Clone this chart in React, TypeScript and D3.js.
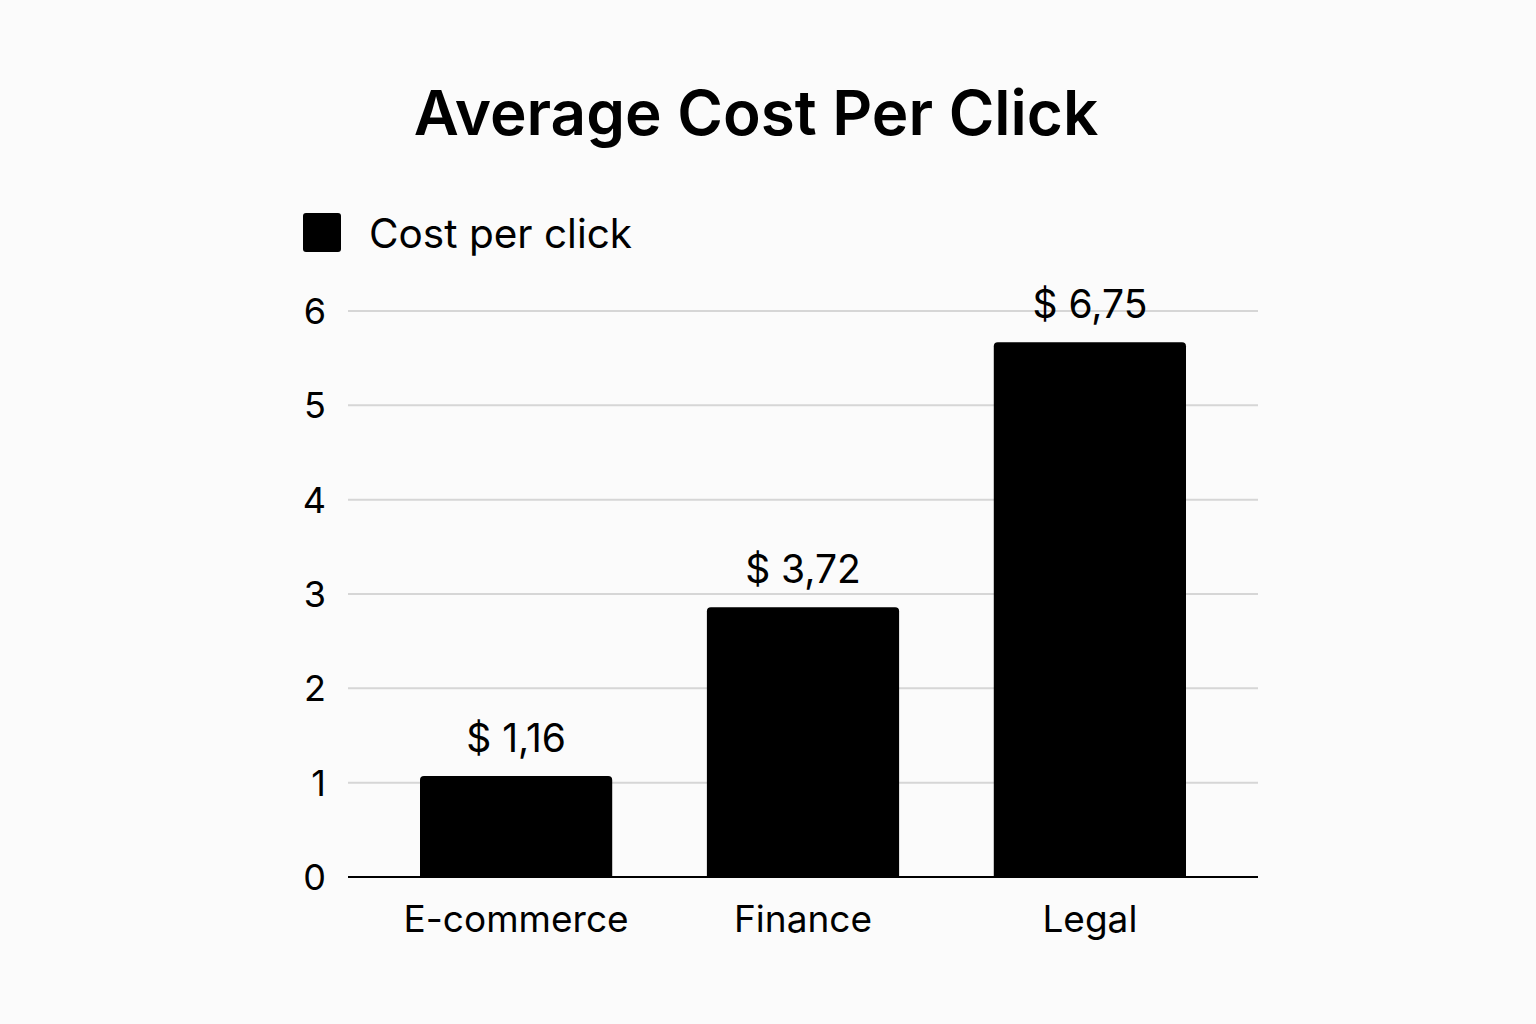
import { useEffect, useRef } from 'react';
import * as d3 from 'd3';

const categories = ['E-commerce', 'Finance', 'Legal'];
// bar heights as drawn in the picture
const barValues = [1.07, 2.86, 5.67];
// value labels as printed above the bars
const valueLabels = ['$ 1,16', '$ 3,72', '$ 6,75'];
const yTicks = [0, 1, 2, 3, 4, 5, 6];
const seriesName = 'Cost per click';
const title = 'Average Cost Per Click';

const W = 1536;
const H = 1024;
const FONT = 'Inter, "Noto Sans", sans-serif';

export default function App() {
  const svgRef = useRef<SVGSVGElement>(null);

  useEffect(() => {
    if (!svgRef.current) return;
    const svg = d3.select(svgRef.current);
    svg.selectAll('*').remove();

    svg.append('rect').attr('width', W).attr('height', H).attr('fill', '#fbfbfb');

    const x = d3.scaleBand<string>()
      .domain(categories)
      .range([420, 1186])
      .paddingInner(0.33)
      .paddingOuter(0);

    const y = d3.scaleLinear().domain([0, 6]).range([877, 311]);

    const plotLeft = 348;
    const plotRight = 1258;

    // Gridlines
    svg.append('g')
      .selectAll('line')
      .data(yTicks.filter(t => t > 0))
      .enter()
      .append('line')
      .attr('x1', plotLeft)
      .attr('x2', plotRight)
      .attr('y1', d => y(d))
      .attr('y2', d => y(d))
      .attr('stroke', '#d6d6d6')
      .attr('stroke-width', 2);

    // Y tick labels
    svg.append('g')
      .selectAll('text')
      .data(yTicks)
      .enter()
      .append('text')
      .attr('x', 326)
      .attr('y', d => y(d))
      .attr('dy', '0.36em')
      .attr('text-anchor', 'end')
      .attr('font-family', FONT)
      .attr('font-size', 36)
      .attr('fill', '#000')
      .text(d => d);

    const bars = categories.map((c, i) => ({ c, v: barValues[i], label: valueLabels[i] }));

    // Bars with slightly rounded tops
    svg.append('g')
      .selectAll('path')
      .data(bars)
      .enter()
      .append('path')
      .attr('d', d => {
        const x0 = x(d.c) || 0;
        const x1 = x0 + x.bandwidth();
        const y0 = y(0);
        const y1 = y(d.v);
        const r = 4;
        return `M${x0},${y0}V${y1 + r}Q${x0},${y1} ${x0 + r},${y1}H${x1 - r}Q${x1},${y1} ${x1},${y1 + r}V${y0}Z`;
      })
      .attr('fill', '#000');

    // Value labels
    svg.append('g')
      .selectAll('text')
      .data(bars)
      .enter()
      .append('text')
      .attr('x', d => (x(d.c) || 0) + x.bandwidth() / 2)
      .attr('y', d => y(d.v) - 24)
      .attr('text-anchor', 'middle')
      .attr('font-family', FONT)
      .attr('font-size', 39)
      .attr('fill', '#000')
      .text(d => d.label);

    // Baseline
    svg.append('line')
      .attr('x1', plotLeft)
      .attr('x2', plotRight)
      .attr('y1', y(0))
      .attr('y2', y(0))
      .attr('stroke', '#000')
      .attr('stroke-width', 2);

    // Category labels
    svg.append('g')
      .selectAll('text')
      .data(categories)
      .enter()
      .append('text')
      .attr('x', d => (x(d) || 0) + x.bandwidth() / 2)
      .attr('y', 932)
      .attr('text-anchor', 'middle')
      .attr('font-family', FONT)
      .attr('font-size', 37)
      .attr('fill', '#000')
      .text(d => d);

    // Legend
    svg.append('rect')
      .attr('x', 303).attr('y', 213).attr('width', 38).attr('height', 39)
      .attr('rx', 3)
      .attr('fill', '#000');
    svg.append('text')
      .attr('x', 369).attr('y', 248)
      .attr('font-family', FONT)
      .attr('font-size', 40.5)
      .attr('fill', '#000')
      .text(seriesName);

    // Title
    svg.append('text')
      .attr('x', 756).attr('y', 135)
      .attr('text-anchor', 'middle')
      .attr('font-family', FONT)
      .attr('font-size', 62)
      .attr('font-weight', 600)
      .attr('fill', '#000')
      .text(title);
  }, []);

  return (
    <div style={{ position: 'absolute', left: 0, top: 0 }}>
      <svg ref={svgRef} width={W} height={H} style={{ display: 'block' }} />
    </div>
  );
}
